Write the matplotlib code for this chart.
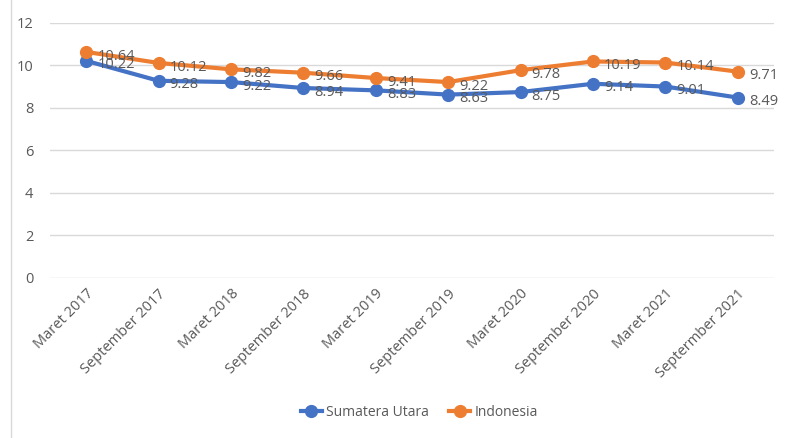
import matplotlib.pyplot as plt
from matplotlib.lines import Line2D

periode = ['Maret 2017', 'September 2017', 'Maret 2018', 'September 2018',
           'Maret 2019', 'September 2019', 'Maret 2020', 'September 2020',
           'Maret 2021', 'Septermber 2021']
sumut = [10.22, 9.28, 9.22, 8.94, 8.83, 8.63, 8.75, 9.14, 9.01, 8.49]
indonesia = [10.64, 10.12, 9.82, 9.66, 9.41, 9.22, 9.78, 10.19, 10.14, 9.71]

biru = '#4472C4'
oranye = '#ED7D31'
abu = '#595959'

plt.rcParams['font.family'] = ['Open Sans', 'DejaVu Sans']

fig = plt.figure(figsize=(7.91, 4.38), dpi=100)
ax = fig.add_axes([0.0632, 0.3653, 0.9153, 0.5822])

x = list(range(len(periode)))
for ys, c, nama in [(sumut, biru, 'Sumatera Utara'), (indonesia, oranye, 'Indonesia')]:
    ax.plot(x, ys, color=c, lw=3, marker='o', ms=8.5, label=nama, zorder=3)
    for xi, yi in zip(x, ys):
        ax.annotate('{:.2f}'.format(yi), (xi, yi), xytext=(8, -3), textcoords='offset points',
                    ha='left', va='center', fontsize=10.5, color=abu, zorder=4)

ax.set_xlim(-0.5, len(periode) - 0.5)
ax.set_ylim(0, 12)
ax.set_yticks(range(0, 13, 2))
ax.set_xticks(x)
ax.set_xticklabels(periode, rotation=45, ha='right', rotation_mode='anchor')
ax.tick_params(axis='both', length=0, labelsize=10.5, labelcolor=abu)
ax.tick_params(axis='y', pad=12)
ax.tick_params(axis='x', pad=6)
ax.grid(axis='y', color='#D9D9D9', lw=1)
ax.set_axisbelow(True)
for s in ax.spines.values():
    s.set_visible(False)

# garis tepi kiri area grafik
fig.add_artist(Line2D([11 / 791, 11 / 791], [0, 1], color='#D9D9D9', lw=1))

h, l = ax.get_legend_handles_labels()
fig.legend(h, l, loc='center', bbox_to_anchor=(0.53, 0.058), ncol=2, frameon=False,
           fontsize=10, labelcolor=abu, handlelength=1.5, columnspacing=1.5, handletextpad=0.3)

fig.savefig('out.png', dpi=100)
